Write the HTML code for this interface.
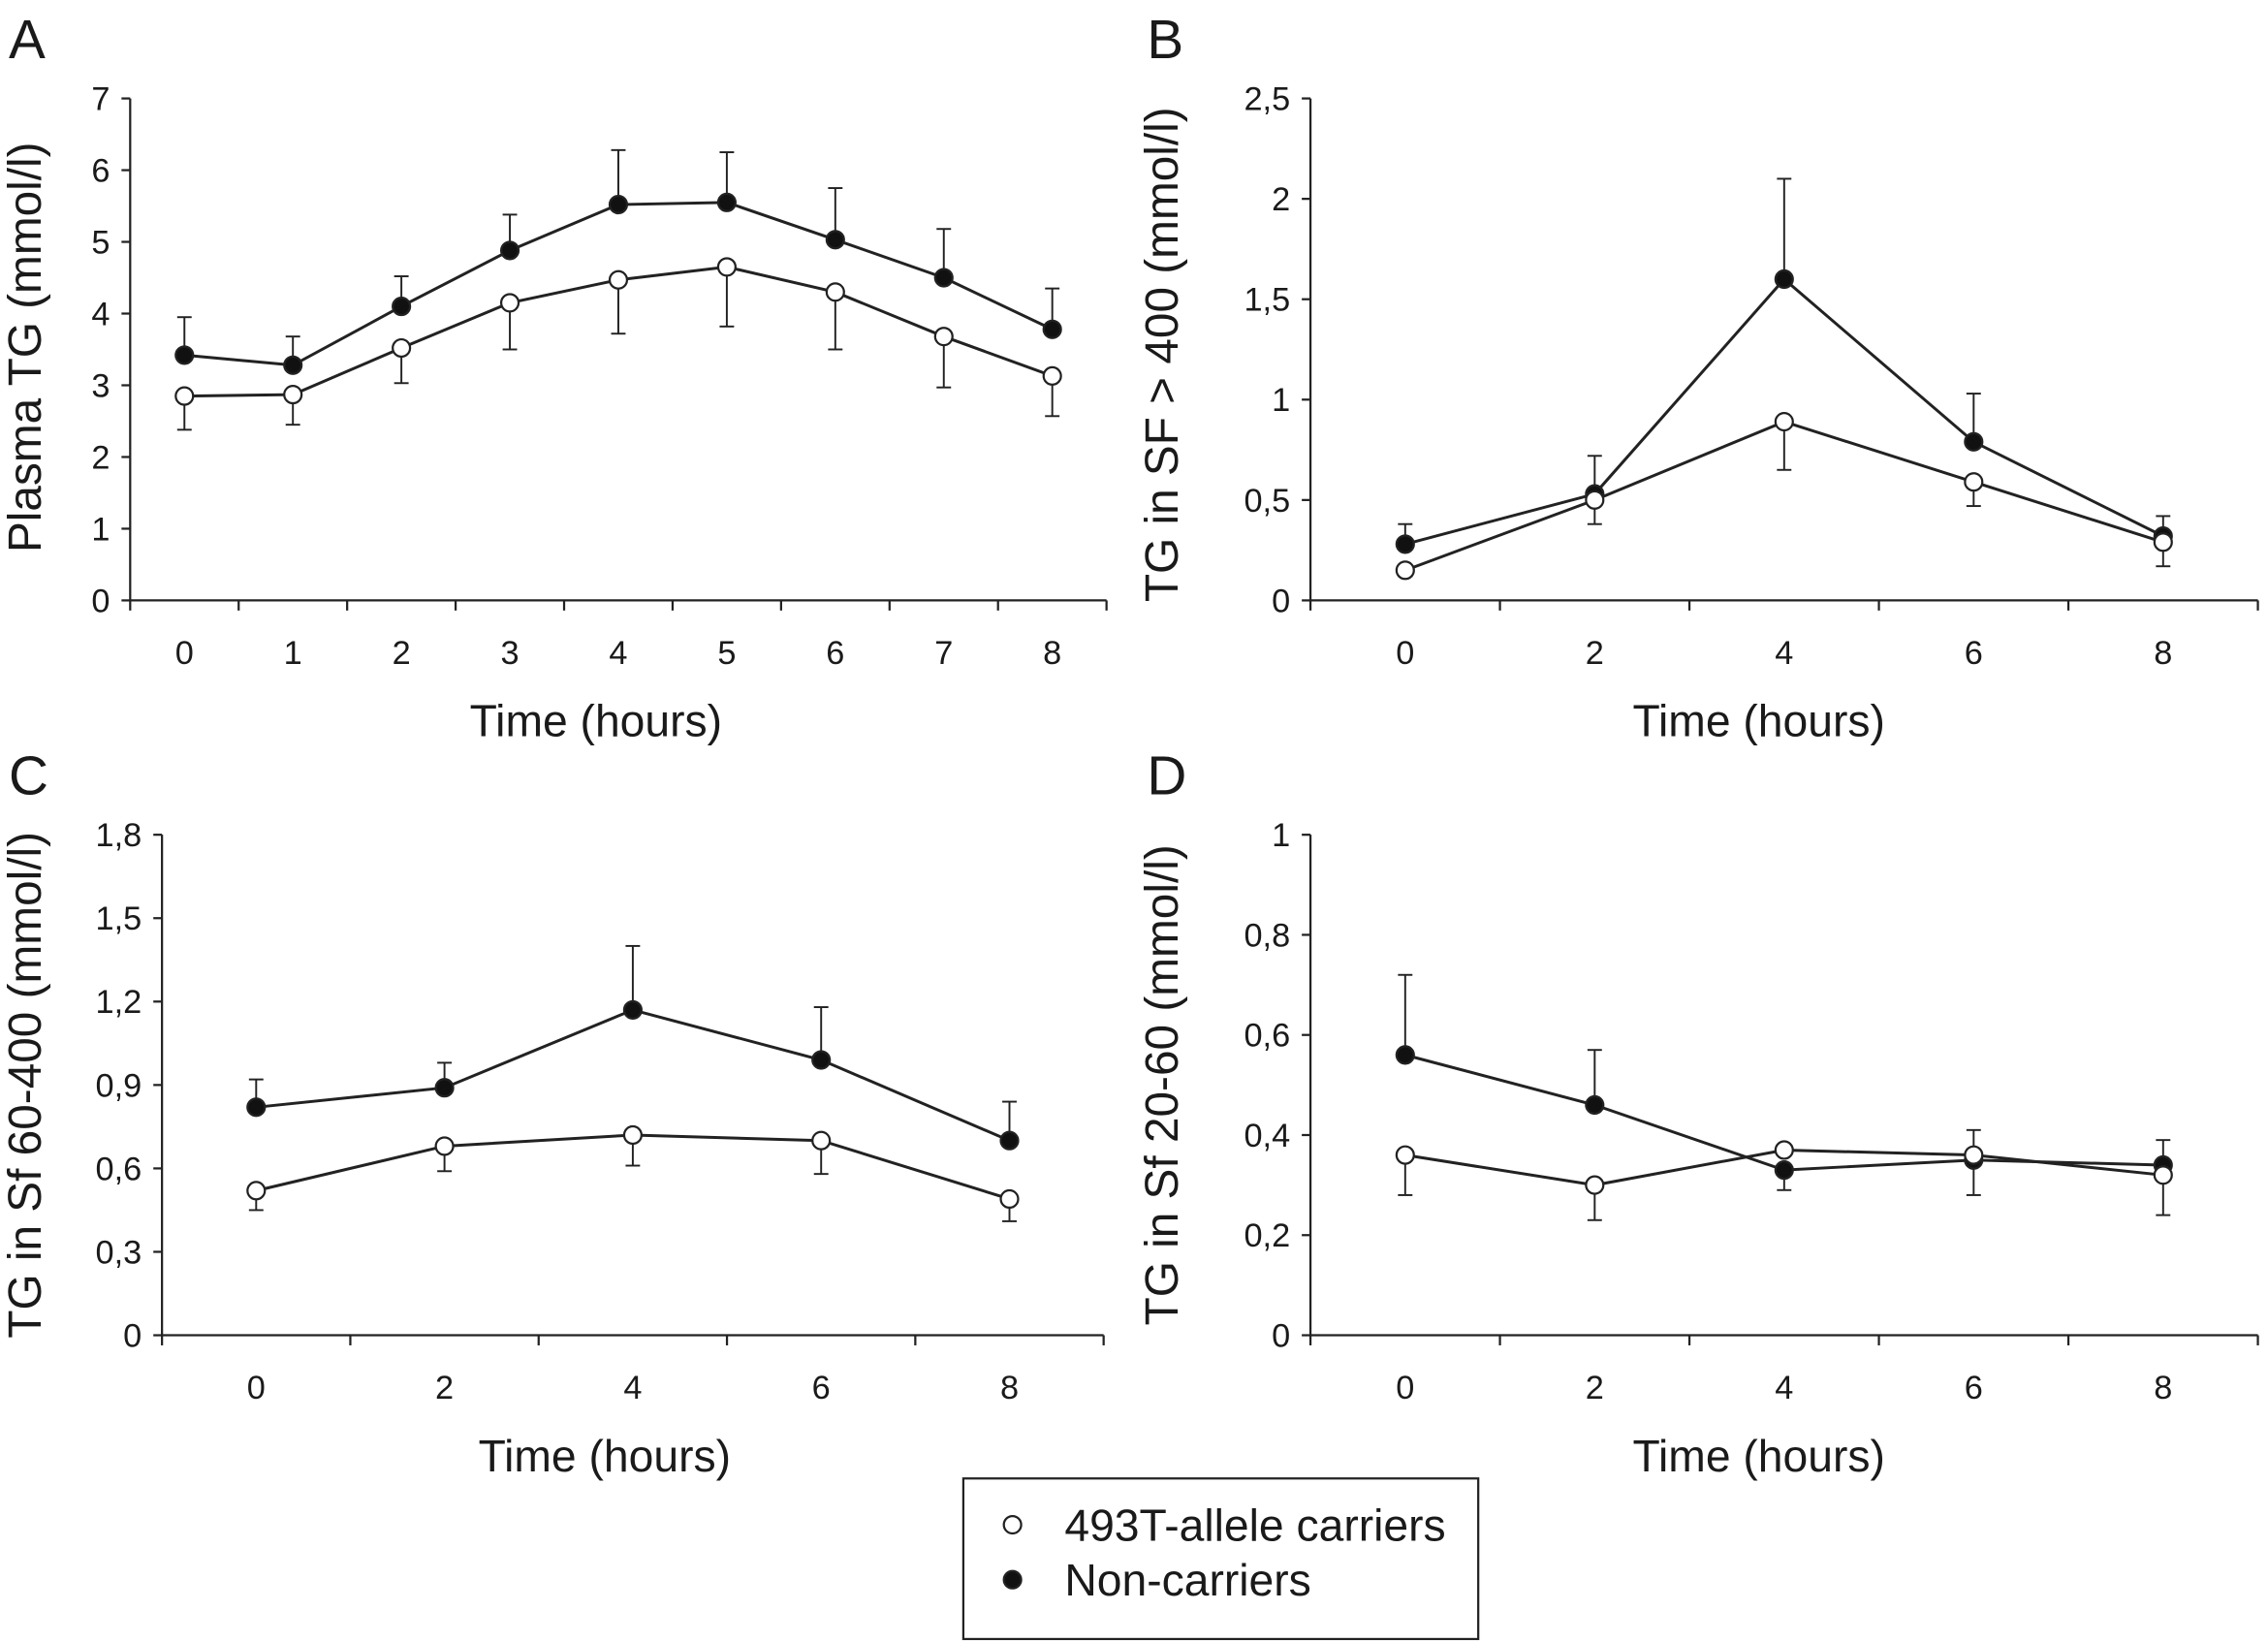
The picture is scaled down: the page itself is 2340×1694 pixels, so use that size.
<!DOCTYPE html>
<html><head><meta charset="utf-8"><style>
html,body{margin:0;padding:0;background:#fff}
svg{display:block}
text{font-family:"Liberation Sans",Arial,sans-serif;fill:#1a1a1a}
</style></head><body>
<svg id="fig" width="2340" height="1694" viewBox="0 0 1568 1135" xmlns="http://www.w3.org/2000/svg">
<g id="root"></g>
</svg>
<script>
// Panel A data
const aCats = [0,1,2,3,4,5,6,7,8];
const aClosed = [3.42,3.28,4.1,4.88,5.52,5.55,5.03,4.5,3.78];
const aClosedErr = [0.53,0.4,0.42,0.5,0.76,0.7,0.72,0.68,0.57];
const aOpen = [2.85,2.87,3.52,4.15,4.47,4.65,4.3,3.68,3.13];
const aOpenErr = [0.47,0.42,0.49,0.65,0.75,0.83,0.8,0.71,0.56];
const aTicks = ["0","1","2","3","4","5","6","7"];
// Panel B data
const bCats = [0,2,4,6,8];
const bClosed = [0.28,0.53,1.6,0.79,0.32];
const bClosedErr = [0.1,0.19,0.5,0.24,0.1];
const bOpen = [0.15,0.5,0.89,0.59,0.29];
const bOpenErr = [0.03,0.12,0.24,0.12,0.12];
const bTicks = ["0","0,5","1","1,5","2","2,5"];
// Panel C data
const cCats = [0,2,4,6,8];
const cClosed = [0.82,0.89,1.17,0.99,0.7];
const cClosedErr = [0.1,0.09,0.23,0.19,0.14];
const cOpen = [0.52,0.68,0.72,0.7,0.49];
const cOpenErr = [0.07,0.09,0.11,0.12,0.08];
const cTicks = ["0","0,3","0,6","0,9","1,2","1,5","1,8"];
// Panel D data
const dCats = [0,2,4,6,8];
const dClosed = [0.56,0.46,0.33,0.35,0.34];
const dClosedErr = [0.16,0.11,-0.04,0.06,0.05];
const dOpen = [0.36,0.3,0.37,0.36,0.32];
const dOpenErr = [0.08,0.07,0,0.08,0.08];
const dTicks = ["0","0,2","0,4","0,6","0,8","1"];

const NS="http://www.w3.org/2000/svg";
const root=document.getElementById('root');
function mk(tag,attrs,parent,txt){const e=document.createElementNS(NS,tag);for(const k in attrs)e.setAttribute(k,attrs[k]);if(txt!==undefined)e.textContent=txt;(parent||root).appendChild(e);return e;}

function panel(o){
  const g=mk('g',{});
  
  
  const yS=v=>o.y0-(v/o.ymax)*(o.y0-o.y1);
  const n=o.cats.length, step=(o.x1-o.x0)/n;
  const xS=i=>o.x0+step*(i+0.5);
  const lt=mk('text',{x:o.lx,y:o.ly,'font-size':38},g,o.id);
  
  const ya=mk('line',{x1:o.x0,y1:o.y0,x2:o.x0,y2:o.y1,stroke:'#222','stroke-width':1.5},g);
  
  const xa=mk('line',{x1:o.x0,y1:o.y0,x2:o.x1,y2:o.y0,stroke:'#222','stroke-width':1.5},g);
  
  o.ticks.forEach((t,i)=>{
    const v=o.ymax*i/(o.ticks.length-1), y=yS(v);
    mk('line',{x1:o.x0-6,y1:y,x2:o.x0,y2:y,stroke:'#222','stroke-width':1.5},g);
    const tl=mk('text',{x:o.x0-14,y:y+8,'font-size':23,'text-anchor':'end'},g,t);
    
  });
  for(let i=0;i<=n;i++){const x=o.x0+step*i;mk('line',{x1:x,y1:o.y0,x2:x,y2:o.y0+7,stroke:'#222','stroke-width':1.5},g);}
  o.cats.forEach((c,i)=>{
    const tl=mk('text',{x:xS(i),y:o.y0+44,'font-size':23,'text-anchor':'middle'},g,String(c));
    
  });
  const xt=mk('text',{x:o.xtc,y:o.y0+94,'font-size':31,'text-anchor':'middle'},g,'Time (hours)');
  
  const yt=mk('text',{x:0,y:0,'font-size':32,'text-anchor':'middle',transform:`translate(${o.tx},${o.tyc}) rotate(-90)`},g,o.title);
  
  [['non-carriers',o.closed,o.closedErr,1],['carriers',o.open,o.openErr,-1]].forEach(([nm,vals,err,dir])=>{
    vals.forEach((v,i)=>{
      const e=err[i]*dir; if(e===0) return;
      const y2=yS(v+e);
      const el=mk('line',{x1:xS(i),y1:yS(v),x2:xS(i),y2:y2,stroke:'#222','stroke-width':1.3},g);
      
      mk('line',{x1:xS(i)-5,y1:y2,x2:xS(i)+5,y2:y2,stroke:'#222','stroke-width':1.3},g);
    });
    const pl=mk('polyline',{points:vals.map((v,i)=>xS(i)+','+yS(v)).join(' '),fill:'none',stroke:'#222','stroke-width':2},g);
    
  });
  [['non-carriers',o.closed,'#111'],['carriers',o.open,'#fff']].forEach(([nm,vals,fill])=>{
    vals.forEach((v,i)=>{
      const c=mk('circle',{cx:xS(i),cy:yS(v),r:6,fill:fill,stroke:'#222','stroke-width':1.5},g);
      
    });
  });
}
panel({id:'A',lx:6,ly:40,x0:90,x1:765,y0:415,y1:68,ymax:7,cats:aCats,closed:aClosed,closedErr:aClosedErr,open:aOpen,openErr:aOpenErr,ticks:aTicks,tx:28,tyc:240,xtc:412,title:'Plasma TG (mmol/l)'});
panel({id:'B',lx:793,ly:40,x0:906,x1:1561,y0:415,y1:68,ymax:2.5,cats:bCats,closed:bClosed,closedErr:bClosedErr,open:bOpen,openErr:bOpenErr,ticks:bTicks,tx:814,tyc:245,xtc:1216,title:'TG in SF > 400 (mmol/l)'});
panel({id:'C',lx:6,ly:549,x0:112,x1:763,y0:923,y1:577,ymax:1.8,cats:cCats,closed:cClosed,closedErr:cClosedErr,open:cOpen,openErr:cOpenErr,ticks:cTicks,tx:28,tyc:750,xtc:418,title:'TG in Sf 60-400 (mmol/l)'});
panel({id:'D',lx:793,ly:549,x0:906,x1:1561,y0:923,y1:577,ymax:1,cats:dCats,closed:dClosed,closedErr:dClosedErr,open:dOpen,openErr:dOpenErr,ticks:dTicks,tx:814,tyc:750,xtc:1216,title:'TG in Sf 20-60 (mmol/l)'});
</script>
<svg style="position:absolute;left:0;top:0" width="2340" height="1694" viewBox="0 0 1568 1135">
<g>
<rect x="666" y="1022" width="356" height="111" fill="#fff" stroke="#222" stroke-width="1.5"/>
<circle cx="700" cy="1054" r="6" fill="#fff" stroke="#222" stroke-width="1.5"/>
<text x="736" y="1065" font-size="31">493T-allele carriers</text>
<circle cx="700" cy="1092" r="6" fill="#111" stroke="#222" stroke-width="1.5"/>
<text x="736" y="1103" font-size="31">Non-carriers</text>
</g>
</svg>
</body></html>
